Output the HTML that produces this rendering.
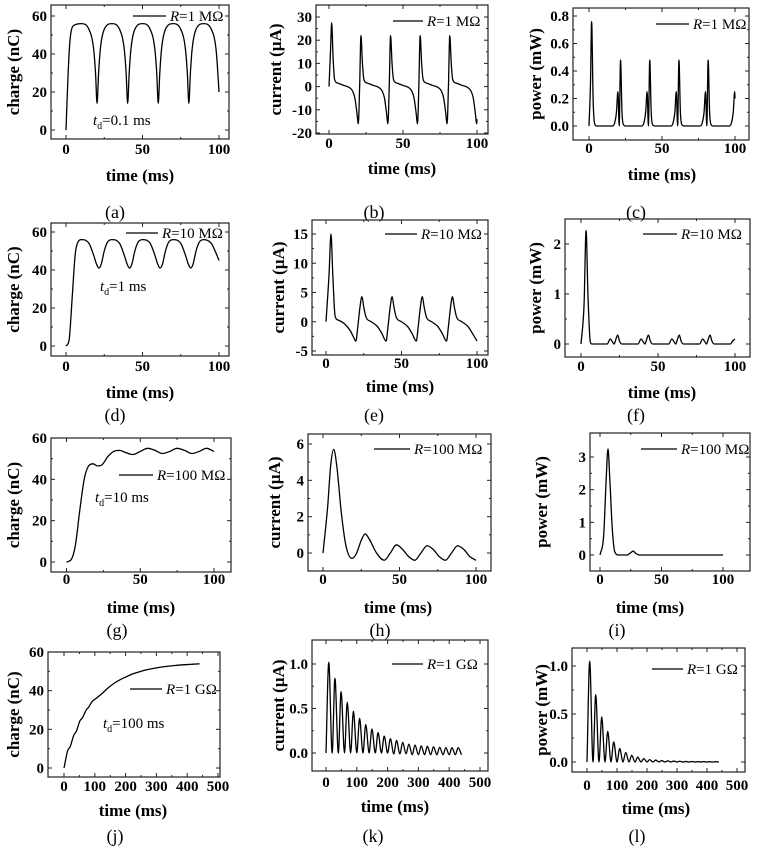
<!DOCTYPE html>
<html><head><meta charset="utf-8">
<style>
html,body{margin:0;padding:0;background:#fff;}
svg{display:block;}
text{font-family:"Liberation Serif",serif;fill:#000;}
.tk{font-size:15px;font-weight:bold;}
.at{font-size:17px;font-weight:bold;}
.lg{font-size:15px;}
.pl{font-size:18px;}
</style></head>
<body>
<svg id="fig" width="757" height="848" viewBox="0 0 757 848" xmlns="http://www.w3.org/2000/svg"></svg>
<script>
// ---- data ----
const aT=[0,1,2,3,5,10,15,18,19.3,20.3,21.3,22.5,25,30,35,38,39.3,40.3,41.3,42.5,45,50,55,58,59.3,60.3,61.3,62.5,65,70,75,78,79.3,80.3,81.3,82.5,85,90,95,98,99,100];
const aV=[0,22,40,50,55,56,53,43,30,14,30,43,53,56,53,43,30,14,30,43,53,56,53,43,30,14,30,43,53,56,53,43,30,14,30,43,53,56,53,43,33,20];
const bT=[0,1,1.8,2.8,3.8,6,10,14,16,17.5,18.8,19.8,20.7,21.6,22.6,23.6,26,30,34,36,37.5,38.8,39.8,40.7,41.6,42.6,43.6,46,50,54,56,57.5,58.8,59.8,60.7,61.6,62.6,63.6,66,70,74,76,77.5,78.8,79.8,80.7,81.6,82.6,83.6,86,90,94,96,97.5,98.8,99.8,100];
const bV=[0,15,27.5,12,3,1.5,0.5,-0.5,-2,-5,-11,-16,0,22,10,3,1.5,0.5,-0.5,-2,-5,-11,-16,0,22,10,3,1.5,0.5,-0.5,-2,-5,-11,-16,0,22,10,3,1.5,0.5,-0.5,-2,-5,-11,-16,0,22,10,3,1.5,0.5,-0.5,-2,-5,-11,-16,-14];
const cT=[0,1,1.8,2.8,3.8,5,16,17.5,18.8,19.8,20.7,21.6,22.6,23.6,25,36,37.5,38.8,39.8,40.7,41.6,42.6,43.6,45,56,57.5,58.8,59.8,60.7,61.6,62.6,63.6,65,76,77.5,78.8,79.8,80.7,81.6,82.6,83.6,85,96,97.5,98.8,99.8,100];
const cV=[0,0.3,0.76,0.2,0.02,0,0,0.02,0.1,0.25,0,0.48,0.1,0.01,0,0,0.02,0.1,0.25,0,0.48,0.1,0.01,0,0,0.02,0.1,0.25,0,0.48,0.1,0.01,0,0,0.02,0.1,0.25,0,0.48,0.1,0.01,0,0,0.02,0.1,0.25,0.2];
const dT=[0,2,4,6,8,10,15,18,20,21.5,23,25,27,30,35,38,40,41.5,43,45,47,50,55,58,60,61.5,63,65,67,70,75,78,80,81.5,83,85,87,90,95,98,100];
const dV=[0,3,25,48,55,56,54,48,43,41,43,50,54.5,56,54,48,43,41,43,50,54.5,56,54,48,43,41,43,50,54.5,56,54,48,43,41,43,50,54.5,56,54,49,45];
const eT=[0,2,3.3,4.5,6,8,12,16,18,19.8,21,22.5,23.8,25,26.5,30,34,37,39.8,41,42.5,43.8,45,46.5,50,54,57,59.8,61,62.5,63.8,65,66.5,70,74,77,79.8,81,82.5,83.8,85,86.5,90,94,97,100];
const eV=[0,8,15,8,1,0.3,-0.3,-1.5,-2.5,-3.3,-1,2.5,4.3,2.5,0.8,0,-0.8,-2,-3.3,-1,2.5,4.3,2.5,0.8,0,-0.8,-2,-3.3,-1,2.5,4.3,2.5,0.8,0,-0.8,-2,-3.3,-1,2.5,4.3,2.5,0.8,0,-0.8,-2,-3.3];
const fT=[0,2,3.3,4.5,6,7,17,19,20.5,21.5,22.5,23.8,25,26.5,37,39,40.5,41.5,42.5,43.8,45,46.5,57,59,60.5,61.5,62.5,63.8,65,66.5,77,79,80.5,81.5,82.5,83.8,85,86.5,97,98.5,100];
const fV=[0,0.8,2.27,1.0,0.05,0,0,0.1,0.04,0,0.08,0.18,0.06,0,0,0.1,0.04,0,0.08,0.18,0.06,0,0,0.1,0.04,0,0.08,0.18,0.06,0,0,0.1,0.04,0,0.08,0.18,0.06,0,0,0.06,0.1];
const gT=[0,3,6,9,12,15,18,21,24,28,32,36,40,45,50,55,60,65,70,75,80,85,90,95,100];
const gV=[0,1,8,25,40,46.5,47.5,46.5,47,51,53.5,54,53,52,53.5,55,54,52.5,53.5,55,54,52.5,53.5,55,53.5];
const hT=[0,3,5,7,9,12,15,19,22,25,27.5,30,35,40,44,48,52,56,60,64,68,72,76,80,84,88,92,96,100];
const hV=[0,2.5,4.8,5.7,4.8,2.2,0.4,-0.3,0,0.7,1.05,0.8,0,-0.4,0,0.45,0.2,-0.2,-0.4,0,0.4,0.2,-0.2,-0.4,0,0.4,0.2,-0.2,-0.4];
const iT=[0,3,5,6.5,8,10,12,15,22,25,27,29,32,100];
const iV=[0,0.6,2.3,3.25,2.3,0.8,0.1,0,0,0.07,0.12,0.05,0,0];
const jT=[0,12,20,32,40,52,60,72,80,92,100,120,140,160,180,200,220,240,260,280,300,320,340,360,380,400,420,440];
const jV=[0,9,11,17,19,24.5,26,30,31.5,34.5,35.5,38,41,43.5,45.5,47,48.5,49.5,50.5,51.2,51.8,52.3,52.7,53,53.3,53.5,53.7,53.9];
const kT=[0,9,20,29,40,49,60,69,80,89,100,109,120,129,140,149,160,169,180,189,200,209,220,229,240,249,260,269,280,289,300,309,320,329,340,349,360,369,380,389,400,409,420,429,440];
const kV=[0,1.02,0,0.84,0,0.69,0,0.57,0,0.47,0,0.39,0,0.32,0,0.27,0,0.23,0,0.19,0,0.16,-0.01,0.14,-0.01,0.12,-0.01,0.1,-0.02,0.09,-0.02,0.08,-0.02,0.075,-0.02,0.07,-0.02,0.065,-0.02,0.06,-0.02,0.06,-0.02,0.06,-0.02];
const lT=[0,9,20,29,40,49,60,69,80,89,100,109,120,129,140,149,160,169,180,189,200,209,220,229,240,249,260,269,280,289,300,309,320,329,340,349,360,369,380,389,400,409,420,429,440];
const lV=[0,1.05,0,0.7,0,0.47,0,0.32,0,0.21,0,0.14,0,0.1,0,0.07,0,0.05,0,0.035,0,0.025,0,0.02,0,0.015,0,0.012,0,0.01,0,0.008,0,0.006,0,0.005,0,0.004,0,0.004,0,0.003,0,0.003,0];
const xTicks100=[0,50,100];
const xTicks500=[0,100,200,300,400,500];

const NS="http://www.w3.org/2000/svg";
const fig=document.getElementById('fig');
function mk(tag,attrs,parent){const e=document.createElementNS(NS,tag);for(const k in attrs)e.setAttribute(k,attrs[k]);(parent||fig).appendChild(e);return e;}
function lin(v1,p1,v2,p2){return v=>p1+(v-v1)*(p2-p1)/(v2-v1);}
function monoPath(xs,ys,sx,sy){
  const n=xs.length;const d=[],m=[];
  for(let i=0;i<n-1;i++)d.push((ys[i+1]-ys[i])/(xs[i+1]-xs[i]));
  m[0]=d[0];m[n-1]=d[n-2];
  for(let i=1;i<n-1;i++)m[i]=(d[i-1]*d[i]<=0)?0:(d[i-1]+d[i])/2;
  for(let i=0;i<n-1;i++){
    if(d[i]===0){m[i]=0;m[i+1]=0;continue;}
    const a=m[i]/d[i],b=m[i+1]/d[i],s=a*a+b*b;
    if(s>9){const t=3/Math.sqrt(s);m[i]=t*a*d[i];m[i+1]=t*b*d[i];}
  }
  let p='M'+sx(xs[0]).toFixed(2)+','+sy(ys[0]).toFixed(2);
  for(let i=0;i<n-1;i++){const h=xs[i+1]-xs[i];
    p+='C'+sx(xs[i]+h/3).toFixed(2)+','+sy(ys[i]+m[i]*h/3).toFixed(2)+' '+sx(xs[i+1]-h/3).toFixed(2)+','+sy(ys[i+1]-m[i+1]*h/3).toFixed(2)+' '+sx(xs[i+1]).toFixed(2)+','+sy(ys[i+1]).toFixed(2);}
  return p;
}
function panel(c){
  const g=mk('g',{});
  
  
  const sx=lin(c.xc[0],c.xc[1],c.xc[2],c.xc[3]);
  const sy=lin(c.yc[0],c.yc[1],c.yc[2],c.yc[3]);
  const fr=mk('rect',{x:c.L,y:c.T,width:c.R-c.L,height:c.B-c.T,fill:'none',stroke:'#222','stroke-width':1.2},g);
  
  
  const xs=c.xt;
  for(let i=0;i<xs.length;i++){
    const X=sx(xs[i]);
    mk('line',{x1:X,y1:c.B,x2:X,y2:c.B-4,stroke:'#222'},g);
    mk('line',{x1:X,y1:c.T,x2:X,y2:c.T+4,stroke:'#222'},g);
    if(i<xs.length-1){const Xm=sx((xs[i]+xs[i+1])/2);
      mk('line',{x1:Xm,y1:c.B,x2:Xm,y2:c.B-2,stroke:'#222'},g);
      mk('line',{x1:Xm,y1:c.T,x2:Xm,y2:c.T+2,stroke:'#222'},g);}
    const t=mk('text',{x:X,y:c.xb,'text-anchor':'middle',class:'tk'},g);t.textContent=xs[i];
    
    
  }
  const ys=c.yt;
  for(let i=0;i<ys.length;i++){
    const Y=sy(ys[i]);
    mk('line',{x1:c.L,y1:Y,x2:c.L+4,y2:Y,stroke:'#222'},g);
    mk('line',{x1:c.R,y1:Y,x2:c.R-4,y2:Y,stroke:'#222'},g);
    if(i<ys.length-1){const Ym=sy((ys[i]+ys[i+1])/2);
      mk('line',{x1:c.L,y1:Ym,x2:c.L+2,y2:Ym,stroke:'#222'},g);
      mk('line',{x1:c.R,y1:Ym,x2:c.R-2,y2:Ym,stroke:'#222'},g);}
    const t=mk('text',{x:c.L-4,y:Y+5,'text-anchor':'end',class:'tk'},g);t.textContent=c.yf?ys[i].toFixed(c.yf):ys[i];
    
    
  }
  const path=mk('path',{d:monoPath(c.X,c.Y,sx,sy),fill:'none',stroke:'#000','stroke-width':1.3},g);
  
  
  const lg=mk('g',{},g);
  
  
  mk('line',{x1:c.lg[0],y1:c.lg[2],x2:c.lg[1],y2:c.lg[2],stroke:'#000','stroke-width':1.3},lg);
  const lt=mk('text',{x:c.lg[1]+4,y:c.lg[2]+5,class:'lg'},lg);
  lt.innerHTML='<tspan font-style="italic">R</tspan>='+c.r;
  if(c.td){const tt=mk('text',{x:c.td[0],y:c.td[1],class:'lg'},g);
    tt.innerHTML='<tspan font-style="italic">t</tspan><tspan font-size="10" dy="4">d</tspan><tspan dy="-4">='+c.td[2]+'</tspan>';
    
    }
  const xt=mk('text',{x:c.xtx,y:c.xty,'text-anchor':'middle',class:'at'},g);xt.textContent='time (ms)';
  
  
  const yc=(c.T+c.B)/2;
  const yt=mk('text',{x:c.ytx,y:yc,'text-anchor':'middle',class:'at',transform:'rotate(-90 '+c.ytx+' '+yc+')',dy:'6'},g);yt.textContent=c.yl;
  
  
  const pl=mk('text',{x:c.plx,y:c.ply,'text-anchor':'middle',class:'pl'},g);pl.textContent='('+c.id+')';
  
  
}
const Q='charge (nC)',I='current (\u00b5A)',W='power (mW)';
panel({id:'a',L:51,R:229,T:5,B:139,xc:[0,66,100,219],yc:[0,130,60,16],xt:xTicks100,yt:[0,20,40,60],X:aT,Y:aV,lg:[133,166,16],r:'1 M\u03a9',td:[93,125,'0.1 ms'],xb:154,xtx:140,xty:181,ytx:13,yl:Q,plx:115,ply:218});
panel({id:'b',L:316,R:488,T:5,B:134,xc:[0,329,100,477],yc:[-20,133,30,17],xt:xTicks100,yt:[-20,-10,0,10,20,30],X:bT,Y:bV,lg:[393,423,21],r:'1 M\u03a9',xb:148,xtx:402,xty:174,ytx:275,yl:I,plx:374,ply:218});
panel({id:'c',L:573,R:749,T:8,B:140,xc:[0,589,100,735],yc:[0,126,0.8,16],xt:xTicks100,yt:[0,0.2,0.4,0.6,0.8],yf:1,X:cT,Y:cV,lg:[656,689,24],r:'1 M\u03a9',xb:153,xtx:662,xty:180,ytx:535,yl:W,plx:636,ply:218});
panel({id:'d',L:51,R:229,T:223,B:356,xc:[0,66,100,219],yc:[0,346,60,232],xt:xTicks100,yt:[0,20,40,60],X:dT,Y:dV,lg:[126,158,233],r:'10 M\u03a9',td:[100,291,'1 ms'],xb:371,xtx:140,xty:398,ytx:13,yl:Q,plx:115,ply:421});
panel({id:'e',L:312,R:488,T:220,B:355,xc:[0,326,100,477],yc:[-5,351,15,234],xt:xTicks100,yt:[-5,0,5,10,15],X:eT,Y:eV,lg:[385,417,234],r:'10 M\u03a9',xb:368,xtx:400,xty:392,ytx:278,yl:I,plx:374,ply:421});
panel({id:'f',L:565,R:750,T:219,B:357,xc:[0,581,100,735],yc:[0,344,2,244],xt:xTicks100,yt:[0,1,2],X:fT,Y:fV,lg:[643,677,234],r:'10 M\u03a9',xb:371,xtx:662,xty:398,ytx:535,yl:W,plx:636,ply:421});
panel({id:'g',L:51,R:231,T:438,B:572,xc:[0,66.5,100,214],yc:[0,562,60,438],xt:xTicks100,yt:[0,20,40,60],X:gT,Y:gV,lg:[119,153,475],r:'100 M\u03a9',td:[95,502,'10 ms'],xb:584,xtx:141,xty:613,ytx:13,yl:Q,plx:117,ply:636});
panel({id:'h',L:308,R:491,T:434,B:571,xc:[0,323,100,476],yc:[0,553,6,444],xt:xTicks100,yt:[0,2,4,6],X:hT,Y:hV,lg:[374,410,449],r:'100 M\u03a9',xb:584,xtx:398,xty:613,ytx:274,yl:I,plx:380,ply:636});
panel({id:'i',L:590,R:750,T:433,B:571,xc:[0,600,100,723],yc:[0,555,3,457],xt:xTicks100,yt:[0,1,2,3],X:iT,Y:iV,lg:[641,677,449],r:'100 M\u03a9',xb:584,xtx:650,xty:613,ytx:541,yl:W,plx:617,ply:636});
panel({id:'j',L:48,R:220,T:652,B:777,xc:[0,64,500,218],yc:[0,768,60,652],xt:xTicks500,yt:[0,20,40,60],X:jT,Y:jV,lg:[130,162,689],r:'1 G\u03a9',td:[103,728,'100 ms'],xb:791,xtx:133,xty:816,ytx:13,yl:Q,plx:115,ply:842});
panel({id:'k',L:312,R:488,T:640,B:771,xc:[0,326,500,480],yc:[0,753,1,664],xt:xTicks500,yt:[0,0.5,1],yf:1,X:kT,Y:kV,lg:[392,423,664],r:'1 G\u03a9',xb:787,xtx:395,xty:812,ytx:278,yl:I,plx:373,ply:842});
panel({id:'l',L:572,R:745,T:648,B:772,xc:[0,587,500,737],yc:[0,762,1,666],xt:xTicks500,yt:[0,0.5,1],yf:1,X:lT,Y:lV,lg:[652,683,669],r:'1 G\u03a9',xb:790,xtx:656,xty:814,ytx:541,yl:W,plx:637,ply:842});
</script>
</body></html>
